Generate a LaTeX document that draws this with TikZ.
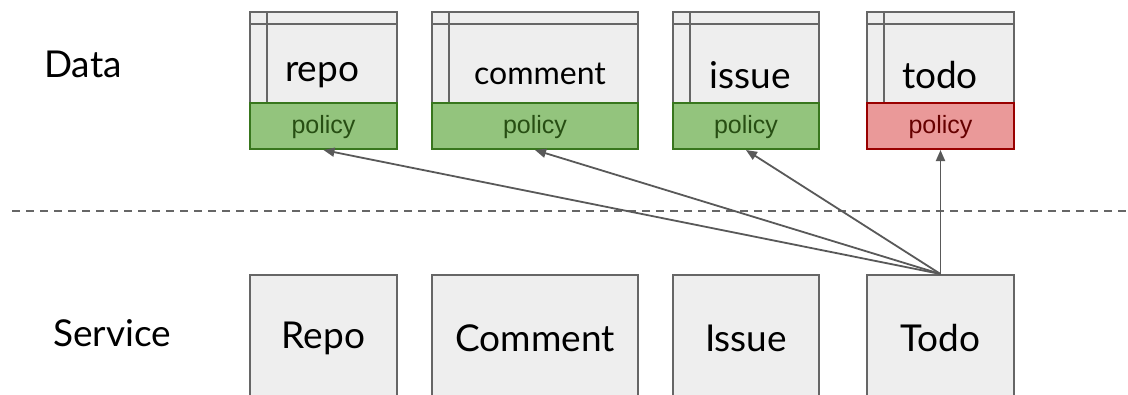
\documentclass[tikz,border=0pt]{standalone}
\usepackage{fontspec}
\setmainfont{Lato}
\newfontfamily\policyfont{Liberation Sans}
\usetikzlibrary{positioning,arrows.meta}

\definecolor{boxgray}{HTML}{EEEEEE}
\definecolor{edgegray}{HTML}{666666}
\definecolor{arrowgray}{HTML}{595959}
\definecolor{okfill}{HTML}{93C47D}
\definecolor{okedge}{HTML}{38761D}
\definecolor{oktext}{HTML}{274E13}
\definecolor{badfill}{HTML}{EA9999}
\definecolor{badedge}{HTML}{990000}
\definecolor{badtext}{HTML}{660000}

\tikzset{
  tablebox/.style={draw=edgegray, fill=boxgray, line width=2pt, inner sep=0pt,
    anchor=north west, minimum height=91pt},
  policyok/.style={draw=okedge, fill=okfill, text=oktext, line width=2pt, inner sep=0pt,
    anchor=north west, minimum height=46pt, text depth=3pt,
    font=\policyfont\fontsize{25}{28}\selectfont},
  policybad/.style={policyok, draw=badedge, fill=badfill, text=badtext},
  servicebox/.style={draw=edgegray, fill=boxgray, line width=2pt, inner sep=0pt,
    anchor=north west, minimum height=126pt, font=\fontsize{37}{40}\selectfont},
  usearrow/.style={draw=arrowgray, line width=1.8pt, -{Triangle[length=11pt,width=9pt]}},
  bigtext/.style={font=\fontsize{37}{40}\selectfont}
}

\begin{document}
\begin{tikzpicture}[x=1pt,y=-1pt]
    \useasboundingbox (0,0) rectangle (1128,394);
    \clip (0,0) rectangle (1128,394);

    % Layer names
    \node[bigtext] (data) at (83,64) {Data};
    \node[bigtext] (service) at (112,333) {Service};

    % Tables with their policies
    \foreach \name/\x/\w/\pol in {repo/249/147/policyok,
                                  comment/431/206/policyok,
                                  issue/672/146/policyok,
                                  todo/866/147/policybad} {
        \node[tablebox, minimum width=\w pt] (\name-tbl) at (\x,11) {};
        \draw[edgegray, line width=2pt] (\name-tbl.north west) ++(0,13) -- ++(\w,0);
        \draw[edgegray, line width=2pt] (\name-tbl.north west) ++(18,0) -- ++(0,91);
        \node[\pol, minimum width=\w pt] (\name-pol) at (\x,102) {policy};
    }
    \node[bigtext] (repo-lbl) at (322,75) {repo};
    \node[font=\fontsize{32}{36}\selectfont] (comment-lbl) at (540,74) {comment};
    \node[bigtext] (issue-lbl) at (750,75) {issue};
    \node[bigtext] (todo-lbl) at (940,75) {todo};

    % Separator
    \draw[edgegray, line width=2pt, dash pattern=on 8pt off 6pt] (12,211) -- (1128,211);

    % Services
    \node[servicebox, minimum width=147pt] (Repo) at (249,274) {Repo};
    \node[servicebox, minimum width=206pt] (Comment) at (431,274) {Comment};
    \node[servicebox, minimum width=146pt] (Issue) at (672,274) {Issue};
    \node[servicebox, minimum width=147pt] (Todo) at (866,274) {Todo};

    % Todo reaches every table
    \foreach \name in {repo,comment,issue,todo}
        \draw[usearrow] (Todo.north) -- (\name-pol.south);
\end{tikzpicture}
\end{document}
